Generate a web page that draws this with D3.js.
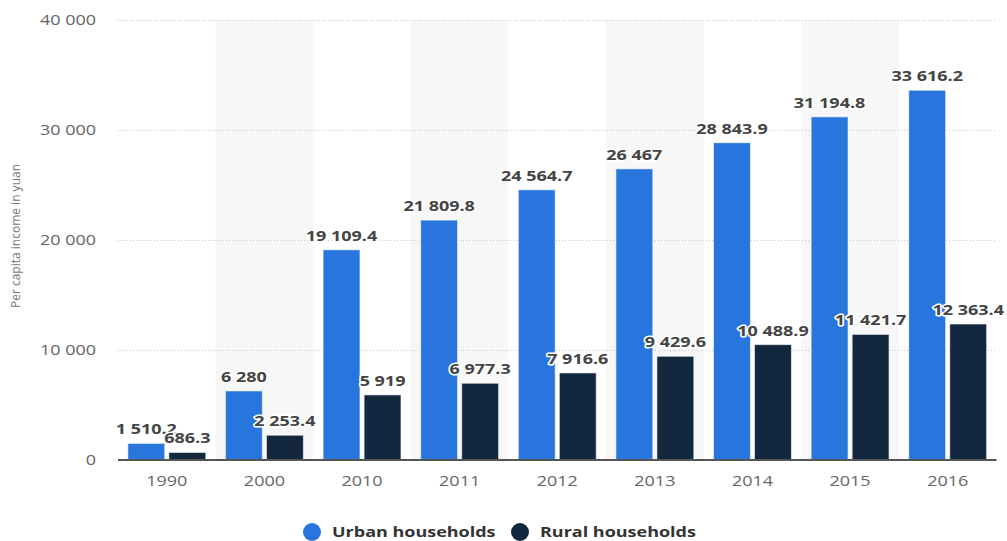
<!DOCTYPE html>
<html><head><meta charset="utf-8">
<script src="https://cdn.jsdelivr.net/npm/d3@7"></script>
<style>body{margin:0;background:#fff;} svg{display:block;font-family:"Open Sans",sans-serif;}</style>
</head><body><svg id="c" width="1007" height="541"></svg>
<script>
const years = ["1990","2000","2010","2011","2012","2013","2014","2015","2016"];
const urban = [1510.2, 6280, 19109.4, 21809.8, 24564.7, 26467, 28843.9, 31194.8, 33616.2];
const rural = [686.3, 2253.4, 5919, 6977.3, 7916.6, 9429.6, 10488.9, 11421.7, 12363.4];
const yTicks = [0, 10000, 20000, 30000, 40000];
const seriesNames = ["Urban households", "Rural households"];
const colors = ["#2876dd", "#13283f"];

(function(){
const svg = d3.select("#c");
const pL = 118, pR = 996.5, pT = 20, pB = 460;
const SX = 1.2;
const x = d3.scaleBand().domain(years).range([pL, pR]);
const y = d3.scaleLinear().domain([0, 40000]).range([pB, pT]);
const fmt = v => d3.format(",")(v).replace(/,/g, " ");
const place = (sel, fx, fy) => sel.attr("transform", (d,i) => `translate(${fx(d,i)},${fy(d,i)}) scale(${SX},1)`);

svg.append("g").selectAll("rect").data(years.filter((d,i)=>i%2===1)).join("rect")
  .attr("x", d => x(d)).attr("width", x.bandwidth())
  .attr("y", pT).attr("height", pB - pT).attr("fill", "#f7f7f7");

svg.append("g").selectAll("line").data(yTicks.filter(t=>t>0)).join("line")
  .attr("x1", pL).attr("x2", pR).attr("y1", d => y(d)+0.5).attr("y2", d => y(d)+0.5)
  .attr("stroke", "#c8c8c8").attr("stroke-dasharray", "1,2");

place(svg.append("g").selectAll("text").data(yTicks).join("text"), () => 96, d => y(d))
  .attr("dy", "0.35em").attr("text-anchor", "end")
  .attr("fill", "#666").attr("font-size", 15).text(fmt);

svg.append("text").attr("transform", "translate(20,236) rotate(-90)")
  .attr("text-anchor", "middle").attr("fill", "#777").attr("font-size", 12)
  .text("Per capita income in yuan");

const sub = d3.scaleBand().domain([0,1]).range([0, x.bandwidth()]).paddingInner(0.1).paddingOuter(0.24);
const data = [];
years.forEach((yr,i)=>{ data.push({yr, s:0, v:urban[i]}); data.push({yr, s:1, v:rural[i]}); });

svg.append("g").selectAll("rect").data(data).join("rect")
  .attr("x", d => x(d.yr) + sub(d.s)).attr("width", sub.bandwidth())
  .attr("y", d => y(d.v)).attr("height", d => pB - y(d.v))
  .attr("fill", d => colors[d.s]).attr("stroke", "rgba(255,255,255,0.6)").attr("stroke-width", 1);

svg.append("line").attr("x1", pL).attr("x2", pR).attr("y1", pB).attr("y2", pB)
  .attr("stroke", "#555").attr("stroke-width", 2);

place(svg.append("g").selectAll("text").data(years).join("text"), d => x(d) + x.bandwidth()/2, () => 486)
  .attr("text-anchor", "middle").attr("fill", "#666").attr("font-size", 15).text(d => d);

place(svg.append("g").selectAll("text").data(data).join("text"),
    d => x(d.yr) + sub(d.s) + sub.bandwidth()/2, d => y(d.v) - 9)
  .attr("text-anchor", "middle").attr("font-size", 15).attr("font-weight", "bold")
  .attr("fill", "#444").attr("stroke", "#fff").attr("stroke-width", 3).attr("paint-order", "stroke")
  .attr("stroke-linejoin", "round").text(d => fmt(d.v));

const leg = svg.append("g");
const legX = [312, 520];
seriesNames.forEach((n,i)=>{
  leg.append("circle").attr("cx", legX[i]).attr("cy", 532).attr("r", 9).attr("fill", colors[i]);
  leg.append("text").attr("transform", `translate(${legX[i]+20},532) scale(${SX},1)`).attr("dy", "0.35em")
    .attr("font-size", 15).attr("font-weight", "bold").attr("fill", "#333").text(n);
});
})();
</script></body></html>
